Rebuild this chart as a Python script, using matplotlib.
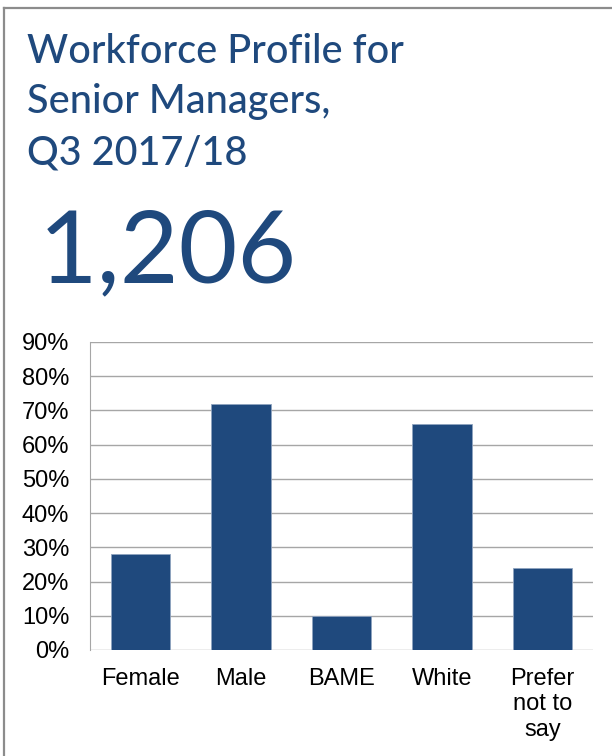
import matplotlib
matplotlib.use("Agg")
import matplotlib.pyplot as plt
from matplotlib.ticker import FuncFormatter

categories = ["Female", "Male", "BAME", "White", "Prefer\nnot to\nsay"]
values = [28, 72, 10, 66, 24]
yticks = [0, 10, 20, 30, 40, 50, 60, 70, 80, 90]
title_lines = "Workforce Profile for\nSenior Managers,\nQ3 2017/18"
headline = "1,206"

navy = "#1F497D"
W, H = 612, 756
fig = plt.figure(figsize=(W/100, H/100), dpi=100)

# outer frame (left & top)
fig.add_artist(plt.Line2D([4/W, 4/W], [0, 1 - 8/H], color="#8c8c8c", lw=1.6, transform=fig.transFigure))
fig.add_artist(plt.Line2D([4/W, 1], [1 - 8/H, 1 - 8/H], color="#8c8c8c", lw=1.6, transform=fig.transFigure))

for line, base in zip(title_lines.split("\n"), [63, 113, 164]):
    fig.text(27/W, 1 - base/H, line, color=navy, fontsize=28.5, family="Lato",
             fontweight="medium", va="baseline", ha="left")
fig.text(39/W, 1 - 282/H, headline, color=navy, fontsize=73, family="Lato",
         va="baseline", ha="left")

ax = fig.add_axes([90/W, 1 - 650/H, (593-90)/W, (650-342)/H])
x = range(len(categories))
ax.bar(x, values, width=0.59, color=navy, edgecolor="#8fa3bf", linewidth=0.6, zorder=3)
ax.set_ylim(0, 90)
ax.set_xlim(-0.5, len(categories) - 0.5)
ax.set_yticks(yticks)
ax.yaxis.set_major_formatter(FuncFormatter(lambda v, p: f"{int(v)}%"))
ax.set_xticks(list(x))
ax.set_xticklabels(categories, fontsize=17, family="Liberation Sans", va="top", linespacing=1.2)
for lab in ax.get_yticklabels():
    lab.set_fontsize(17)
    lab.set_family("Liberation Sans")
ax.grid(axis="y", color="#a6a6a6", lw=1, zorder=0)
for s in ["top", "right", "bottom"]:
    ax.spines[s].set_visible(False)
ax.spines["left"].set_color("#a6a6a6")
ax.tick_params(axis="y", length=0, pad=15)
ax.tick_params(axis="x", length=0, pad=13)

fig.savefig("out.png", dpi=100)
